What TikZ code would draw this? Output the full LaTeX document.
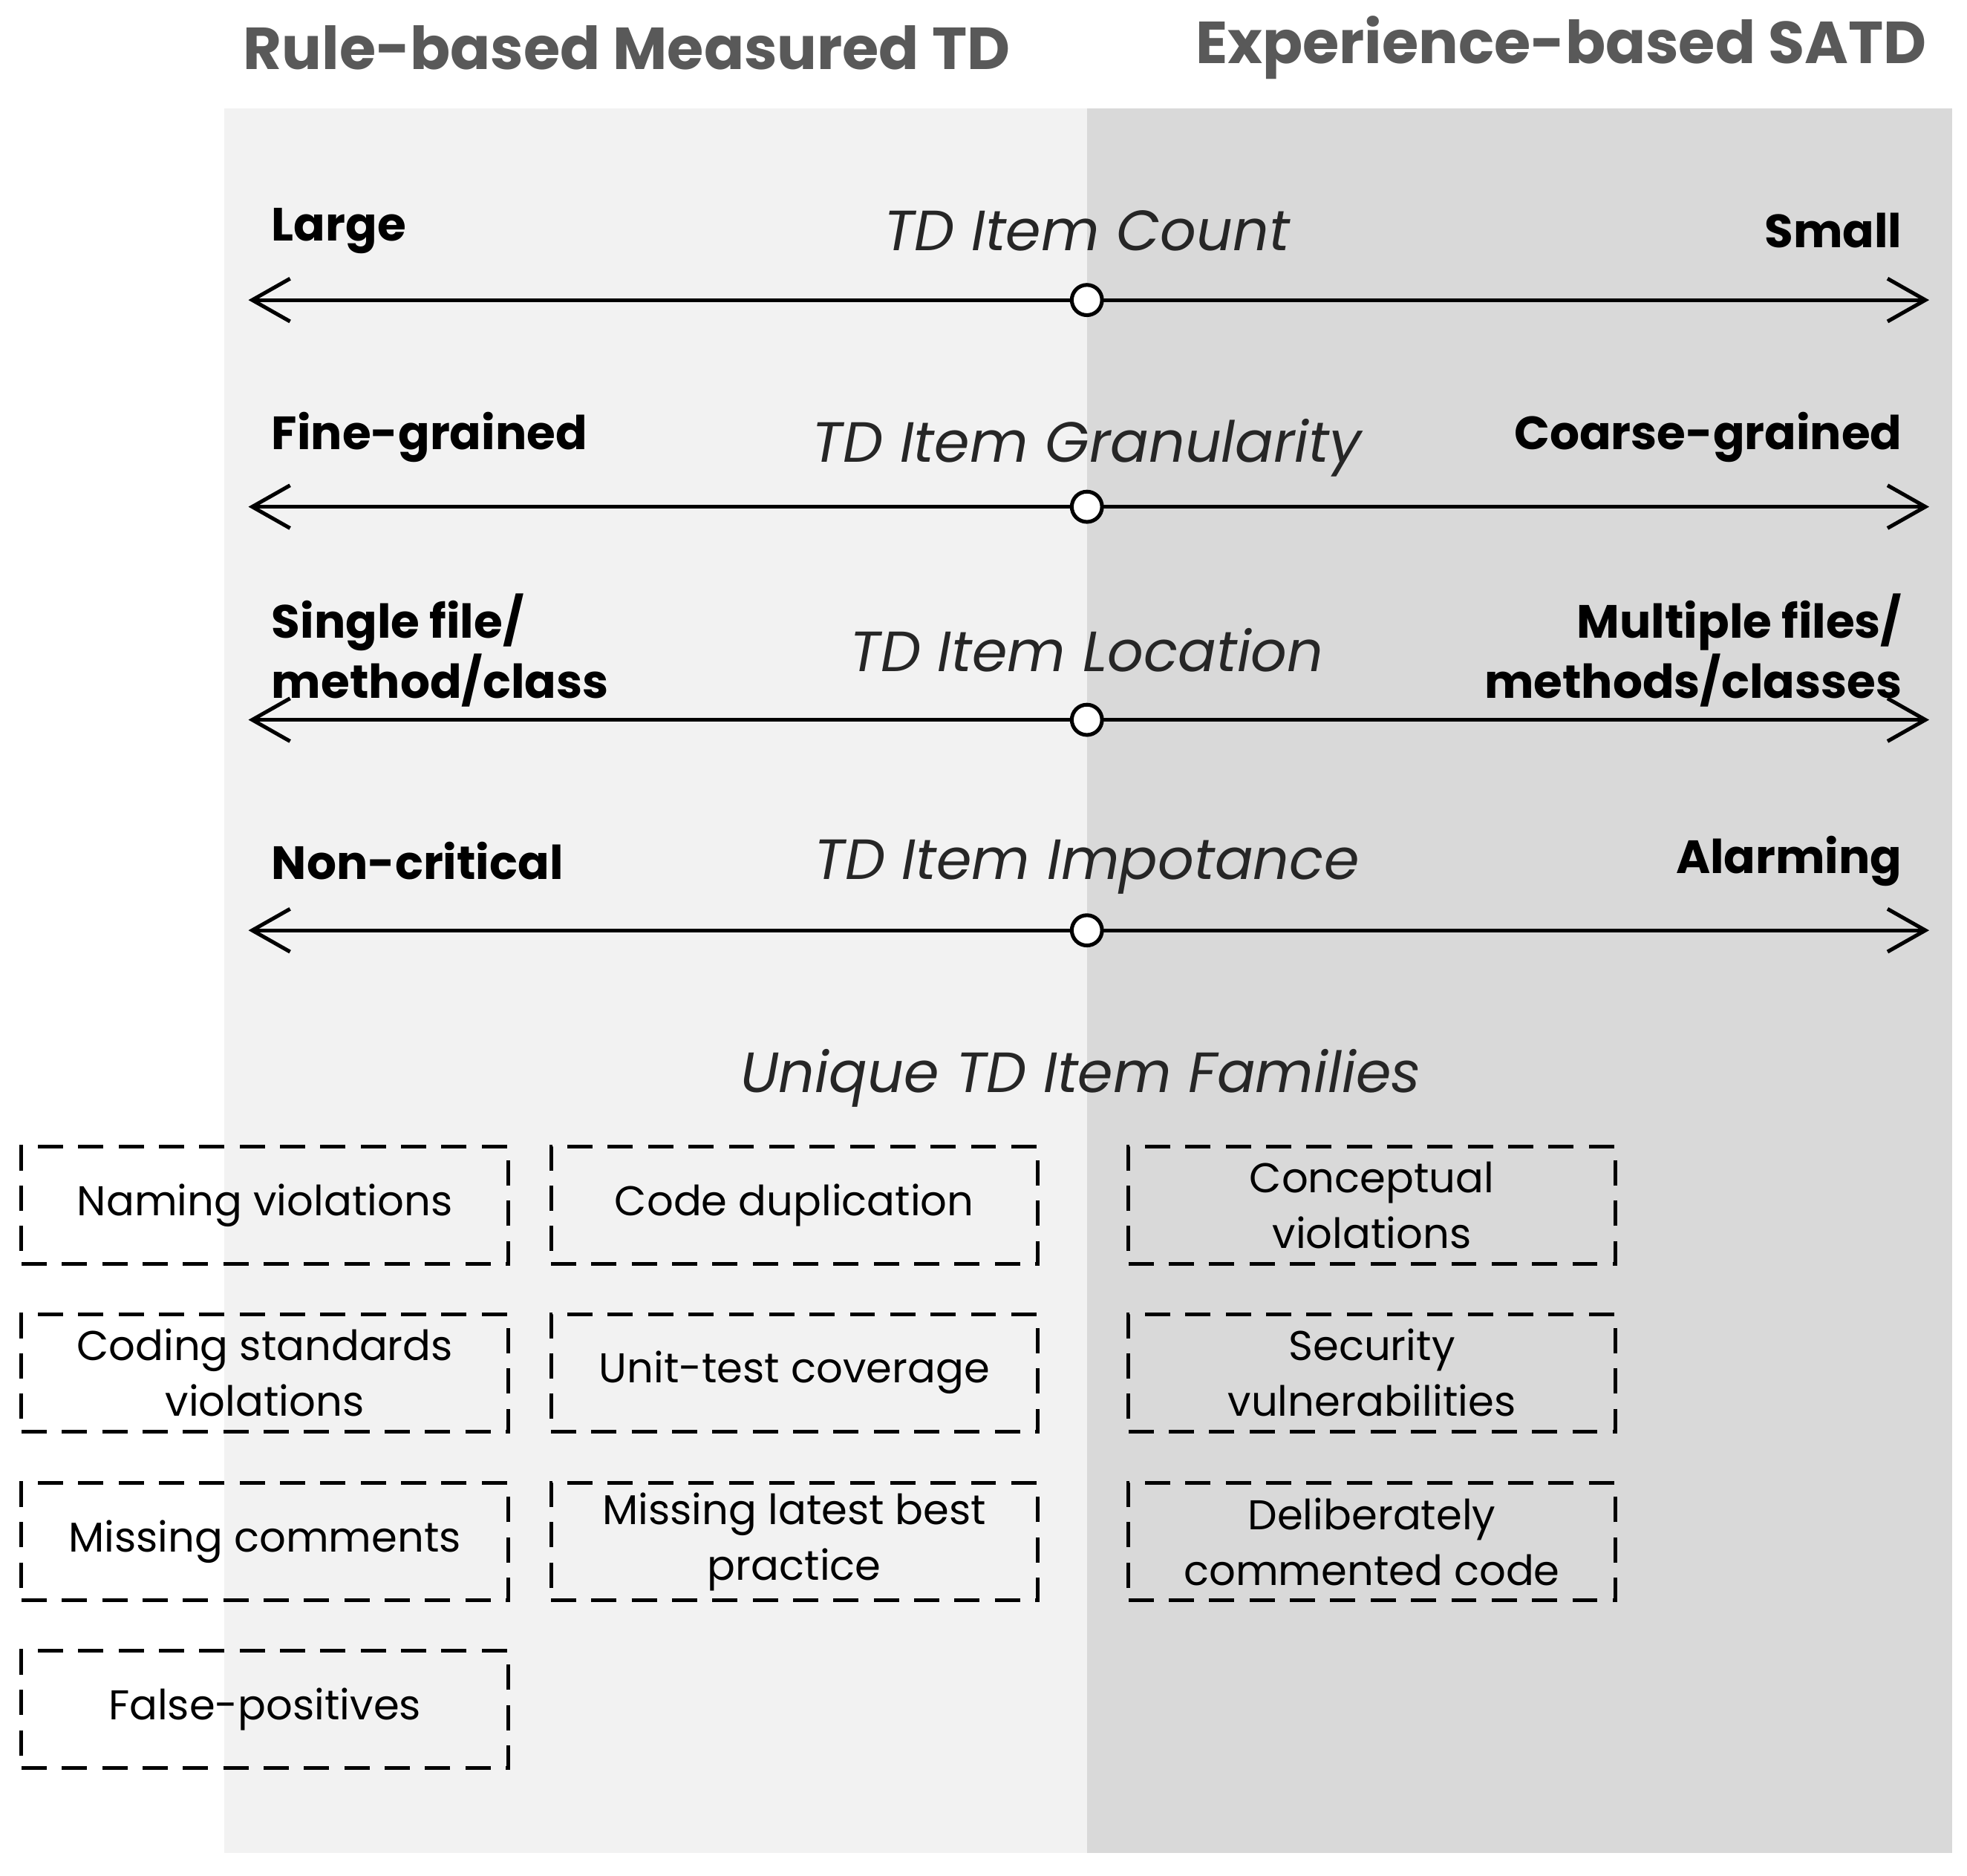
\documentclass[tikz,border=0pt]{standalone}
\usepackage{fontspec}
\setmainfont{Poppins}
\usetikzlibrary{arrows.meta}
\begin{document}
\begin{tikzpicture}[x=1pt,y=-1pt,
 ax/.style={line width=3pt,{Straight Barb[length=30pt,width=34pt,line width=3pt]}-{Straight Barb[length=30pt,width=34pt,line width=3pt]}},
 dot/.style={circle,draw,line width=3pt,fill=white,minimum size=24pt,inner sep=0pt},
 lab/.style={font=\fontsize{37}{48}\selectfont\bfseries,align=left},
 rlab/.style={font=\fontsize{37}{48}\selectfont\bfseries,align=right},
 mid/.style={font=\fontsize{45}{50}\selectfont\itshape,text=black!85},
 box/.style={draw,dashed,dash pattern=on 20pt off 12pt,line width=3pt,minimum width=386pt,minimum height=93pt,align=center,font=\fontsize{33}{44}\selectfont,inner sep=2pt}]
\useasboundingbox (0,0) rectangle (1560,1488);
\fill[black!5] (178,86) rectangle (862,1470);
\fill[black!15] (862,86) rectangle (1548,1470);
\node[font=\fontsize{47}{50}\selectfont\bfseries,text=black!65] (t1) at (497,38) {Rule-based Measured TD};
\node[font=\fontsize{47}{50}\selectfont\bfseries,text=black!65] (t2) at (1238,38) {Experience-based SATD};
\foreach \y/\n in {238/a,402/b,571/c,738/d}{
 \coordinate (\n l) at (197,\y); \coordinate (\n r) at (1530,\y);
 \draw[ax] (\n l) -- (\n r);
 \node[dot] (\n o) at (862,\y) {};
}
\node[lab,anchor=west] (l1) at (212,183) {Large};
\node[rlab,anchor=east] (r1) at (1512,183) {Small};
\node[mid] (m1) at (862,183) {TD Item Count};
\node[lab,anchor=west] (l2) at (212,347) {Fine-grained};
\node[rlab,anchor=east] (r2) at (1512,347) {Coarse-grained};
\node[mid] (m2) at (862,355) {TD Item Granularity};
\node[lab,anchor=west] (l3) at (212,516) {Single file/\\method/class};
\node[rlab,anchor=east] (r3) at (1512,516) {Multiple files/\\methods/classes};
\node[mid] (m3) at (862,516) {TD Item Location};
\node[lab,anchor=west] (l4) at (212,683) {Non-critical};
\node[rlab,anchor=east] (r4) at (1512,683) {Alarming};
\node[mid] (m4) at (862,688) {TD Item Impotance};
\node[mid] (u) at (857,855) {Unique TD Item Families};
\node[box] (b11) at (210,956) {Naming violations};
\node[box] (b21) at (210,1089) {Coding standards\\violations};
\node[box] (b31) at (210,1223) {Missing comments};
\node[box] (b41) at (210,1356) {False-positives};
\node[box] (b12) at (630,956) {Code duplication};
\node[box] (b22) at (630,1089) {Unit-test coverage};
\node[box] (b32) at (630,1223) {Missing latest best\\practice};
\node[box] (b13) at (1088,956) {Conceptual\\violations};
\node[box] (b23) at (1088,1089) {Security\\vulnerabilities};
\node[box] (b33) at (1088,1223) {Deliberately\\commented code};
\end{tikzpicture}
\end{document}
